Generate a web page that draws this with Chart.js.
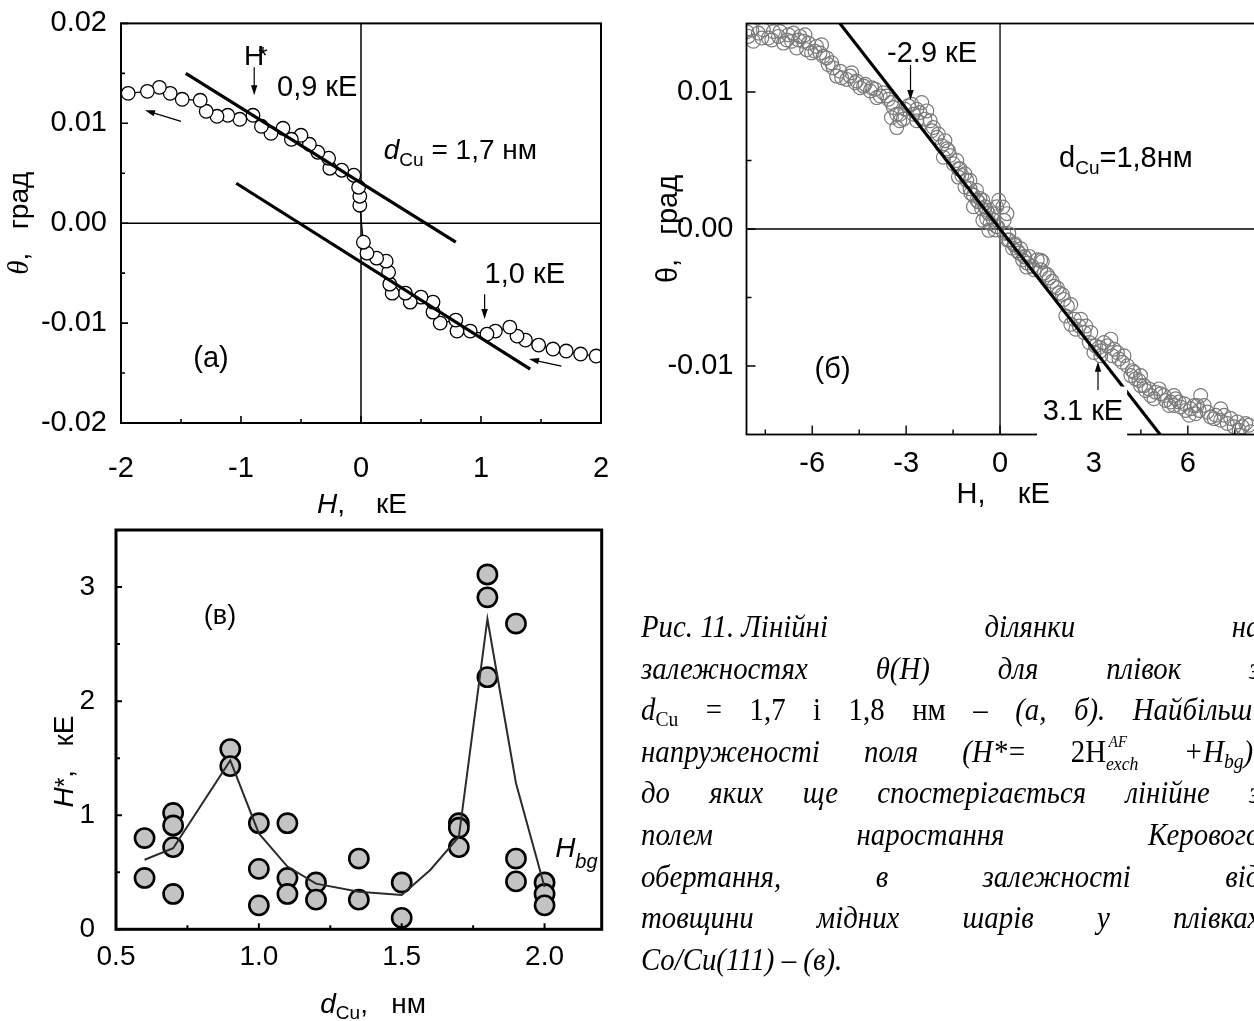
<!DOCTYPE html>
<html lang="uk">
<head>
<meta charset="utf-8">
<title>Рис. 11</title>
<script src="https://cdn.jsdelivr.net/npm/chart.js@4.4.1/dist/chart.umd.min.js"></script>
<style>
  html, body { margin: 0; padding: 0; background: #fff; }
  body { width: 1254px; height: 1021px; overflow: hidden; position: relative; }
  canvas { position: absolute; left: 0; top: 0; }
  .caption {
    position: absolute; left: 641px; top: 606px; width: 666px;
    transform: scaleX(0.93); transform-origin: 0 0;
    font: italic 31px/41.6px "Liberation Serif", "Times New Roman", serif; color: #000;
  }
  .ln { height: 41.6px; text-align: justify; text-align-last: justify; }
  .ln.last { text-align-last: left; }
  .grp { display: inline-block; }
  .up { font-style: normal; }
  .up i { font-style: italic; }
  .sb { font-size: 0.68em; line-height: 0; vertical-align: -0.28em; }
  .st { display: inline-block; position: relative; width: 36px; height: 0; }
  .st .a { position: absolute; left: 3px; top: -28px; font-size: 16px; line-height: 16px; }
  .st .e { position: absolute; left: 0; top: -8px; font-size: 19px; line-height: 19px; }
</style>
</head>
<body>
<canvas id="chA" width="1300" height="1021"></canvas>
<canvas id="chB" width="1300" height="1021"></canvas>
<canvas id="chC" width="1300" height="1021"></canvas>

<div class="caption">
  <div class="ln"><span class="grp">Рис. 11. Лінійні</span> ділянки на</div>
  <div class="ln">залежностях θ(H) для плівок з</div>
  <div class="ln"><span class="up"><i>d</i><span class="sb">Cu</span> = 1,7 і 1,8 нм –</span> (а, б). Найбільші</div>
  <div class="ln">напруженості поля (H*= <span class="up">2H</span><span class="st"><span class="a">AF</span><span class="e">exch</span></span> +H<span class="sb">bg</span>),</div>
  <div class="ln">до яких ще спостерігається лінійне з</div>
  <div class="ln">полем наростання Керового</div>
  <div class="ln">обертання, в залежності від</div>
  <div class="ln">товщини мідних шарів у плівках</div>
  <div class="ln last">Co/Cu(111) – (в).</div>
</div>

<script>
// (а) d_Cu = 1,7 нм, sweep from +2 kE down to -2 kE
const aFieldKOe = [
  1.96, 1.83, 1.71, 1.60, 1.48, 1.37, 1.30, 1.24, 1.12, 1.05,
  0.91, 0.80, 0.79, 0.66, 0.60, 0.60, 0.50, 0.41, 0.37, 0.26,
  0.24, 0.23, 0.21, 0.13, 0.05, 0.02,
  -0.01, -0.01, -0.02, -0.06, -0.16, -0.26, -0.27, -0.36, -0.43, -0.50,
  -0.58, -0.65, -0.75, -0.83, -0.90, -1.01, -1.11, -1.20, -1.29, -1.34,
  -1.49, -1.59, -1.68, -1.78, -1.94
];
const aKerrDeg = [
  -0.0133, -0.0131, -0.0128, -0.0126, -0.0122, -0.0117, -0.0113, -0.0104, -0.0108, -0.0111,
  -0.0108, -0.0108, -0.0097, -0.0100, -0.0089, -0.0079, -0.0074, -0.0079, -0.0070, -0.0070,
  -0.0061, -0.0049, -0.0038, -0.0035, -0.0030, -0.0019,
  0.0018, 0.0027, 0.0036, 0.0048, 0.0053, 0.0055, 0.0065, 0.0071, 0.0079, 0.0088,
  0.0084, 0.0095, 0.0090, 0.0097, 0.0108, 0.0104, 0.0108, 0.0107, 0.0112, 0.0123,
  0.0124, 0.0130, 0.0136, 0.0132, 0.0130
];
const aFitUpperKOe = [-1.46, 0.79];
const aFitUpperDeg = [0.0150, -0.0019];
const aFitLowerKOe = [-1.04, 1.41];
const aFitLowerDeg = [0.0040, -0.0146];
const aTicksX = [-2, -1, 0, 1, 2];
const aMinorX = [-1.5, -0.5, 0.5, 1.5];
const aTicksY = [-0.02, -0.01, 0, 0.01, 0.02];
const aMinorY = [-0.015, -0.005, 0.005, 0.015];

// (б) d_Cu = 1,8 нм
const bFieldKOe = [
  -8.09, -8.04, -7.93, -7.88, -7.72, -7.61, -7.56, -7.40, -7.29, -7.24,
  -7.08, -7.03, -6.92, -6.81, -6.76, -6.66, -6.60, -6.50, -6.44, -6.39,
  -6.28, -6.23, -6.18, -6.12, -6.02, -5.91, -5.86, -5.75, -5.70, -5.65,
  -5.54, -5.49, -5.38, -5.33, -5.22, -5.11, -5.06, -4.90, -4.79, -4.74,
  -4.63, -4.58, -4.47, -4.36, -4.31, -4.15, -4.10, -3.99, -3.94, -3.83,
  -3.73, -3.62, -3.57, -3.47, -3.47, -3.41, -3.30, -3.30, -3.20, -3.20,
  -3.09, -3.04, -2.93, -2.82, -2.77, -2.66, -2.66, -2.56, -2.50, -2.40,
  -2.34, -2.23, -2.18, -2.13, -2.02, -1.97, -1.86, -1.81, -1.76, -1.70,
  -1.65, -1.60, -1.49, -1.38, -1.33, -1.33, -1.28, -1.22, -1.12, -1.12,
  -1.06, -0.96, -0.96, -0.93, -0.85, -0.85, -0.75, -0.74, -0.69, -0.64,
  -0.59, -0.55, -0.55, -0.48, -0.43, -0.42, -0.37, -0.36, -0.32, -0.23,
  -0.21, -0.16, -0.11, -0.11, -0.08, -0.04, 0.09, 0.13, 0.13, 0.22,
  0.24, 0.28, 0.29, 0.40, 0.45, 0.47, 0.56, 0.61, 0.66, 0.72,
  0.77, 0.79, 0.85, 0.87, 0.93, 1.03, 1.09, 1.19, 1.30, 1.30,
  1.35, 1.41, 1.51, 1.57, 1.67, 1.73, 1.83, 1.89, 1.99, 2.04,
  2.10, 2.15, 2.26, 2.26, 2.37, 2.42, 2.53, 2.58, 2.69, 2.74,
  2.85, 2.90, 3.00, 3.05, 3.16, 3.22, 3.22, 3.32, 3.43, 3.54,
  3.59, 3.64, 3.75, 3.80, 3.91, 3.96, 4.07, 4.18, 4.23, 4.28,
  4.33, 4.44, 4.49, 4.49, 4.60, 4.65, 4.76, 4.81, 4.92, 4.97,
  5.08, 5.13, 5.24, 5.29, 5.40, 5.45, 5.56, 5.56, 5.61, 5.72,
  5.77, 5.88, 5.93, 6.04, 6.09, 6.20, 6.25, 6.30, 6.36, 6.41,
  6.52, 6.62, 6.73, 6.84, 6.89, 7.05, 7.05, 7.16, 7.26, 7.37,
  7.48, 7.58, 7.64, 7.74, 7.85, 7.95, 8.01
];
const bKerrDeg = [
  0.01440, 0.01406, 0.01454, 0.01370, 0.01430, 0.01394, 0.01454, 0.01394, 0.01380, 0.01442,
  0.01406, 0.01442, 0.01357, 0.01380, 0.01418, 0.01370, 0.01430, 0.01321, 0.01380, 0.01406,
  0.01370, 0.01418, 0.01309, 0.01357, 0.01285, 0.01297, 0.01333, 0.01285, 0.01345, 0.01261,
  0.01249, 0.01201, 0.01213, 0.01176, 0.01116, 0.01152, 0.01104, 0.01092, 0.01116, 0.01140,
  0.01068, 0.01080, 0.01031, 0.01043, 0.01056, 0.01007, 0.01031, 0.01020, 0.00959, 0.00971,
  0.00995, 0.00971, 0.00947, 0.00923, 0.00814, 0.00886, 0.00838, 0.00740, 0.00790, 0.00838,
  0.00802, 0.00874, 0.00899, 0.00911, 0.00838, 0.00874, 0.00790, 0.00850, 0.00923, 0.00802,
  0.00862, 0.00790, 0.00717, 0.00741, 0.00669, 0.00693, 0.00609, 0.00524, 0.00645, 0.00585,
  0.00572, 0.00536, 0.00476, 0.00500, 0.00440, 0.00379, 0.00440, 0.00391, 0.00403, 0.00307,
  0.00355, 0.00295, 0.00355, 0.00259, 0.00246, 0.00162, 0.00283, 0.00210, 0.00198, 0.00222,
  0.00150, 0.00210, 0.00063, 0.00162, 0.00077, 0.00137, 0.00114, -0.00010, 0.00041, 0.00112,
  0.00065, -0.00007, 0.00162, 0.00017, 0.00017, 0.00210, 0.00161, 0.00063, -0.00031, 0.00112,
  -0.00080, -0.00034, -0.00080, -0.00140, -0.00116, -0.00107, -0.00160, -0.00176, -0.00144, -0.00225,
  -0.00200, -0.00205, -0.00278, -0.00249, -0.00200, -0.00273, -0.00297, -0.00225, -0.00229, -0.00297,
  -0.00237, -0.00321, -0.00333, -0.00357, -0.00382, -0.00418, -0.00430, -0.00466, -0.00478, -0.00514,
  -0.00635, -0.00563, -0.00551, -0.00696, -0.00659, -0.00732, -0.00708, -0.00659, -0.00756, -0.00708,
  -0.00828, -0.00756, -0.00901, -0.00853, -0.00865, -0.00889, -0.00925, -0.00828, -0.00853, -0.00804,
  -0.00925, -0.00877, -0.00901, -0.00949, -0.00973, -0.00925, -0.00998, -0.01070, -0.01034, -0.01046,
  -0.01094, -0.01106, -0.01143, -0.01070, -0.01143, -0.01179, -0.01167, -0.01215, -0.01239, -0.01191,
  -0.01167, -0.01203, -0.01215, -0.01251, -0.01288, -0.01263, -0.01288, -0.01215, -0.01239, -0.01263,
  -0.01299, -0.01275, -0.01324, -0.01360, -0.01312, -0.01288, -0.01348, -0.01288, -0.01324, -0.01215,
  -0.01288, -0.01336, -0.01372, -0.01384, -0.01360, -0.01396, -0.01312, -0.01360, -0.01420, -0.01384,
  -0.01444, -0.01408, -0.01469, -0.01444, -0.01420, -0.01432, -0.01480
];
const bFitKOe = [-5.15, 5.15];
const bFitDeg = [0.0151, -0.0151];
const bTicksX = [-6, -3, 0, 3, 6];
const bMinorX = [-7.5, -4.5, -1.5, 1.5, 4.5, 7.5];
const bTicksY = [-0.01, 0, 0.01];
const bMinorY = [-0.005, 0.005];

// (в) H* versus copper thickness
const cThicknessNm = [
  0.6, 0.6, 0.7, 0.7, 0.7, 0.7, 0.9, 0.9, 1.0, 1.0, 1.0,
  1.1, 1.1, 1.1, 1.2, 1.2, 1.35, 1.35, 1.5, 1.5,
  1.7, 1.7, 1.7, 1.8, 1.8, 1.8, 1.9, 1.9, 1.9, 2.0, 2.0, 2.0
];
const cHstarKOe = [
  0.80, 0.45, 1.02, 0.91, 0.72, 0.31, 1.58, 1.43, 0.93, 0.53, 0.21,
  0.93, 0.45, 0.31, 0.41, 0.26, 0.62, 0.26, 0.41, 0.10,
  0.93, 0.89, 0.72, 3.11, 2.91, 2.21, 2.68, 0.62, 0.42, 0.41, 0.31, 0.21
];
const cBgThicknessNm = [0.6, 0.7, 0.9, 1.0, 1.1, 1.2, 1.35, 1.5, 1.6, 1.7, 1.8, 1.9, 2.0];
const cBgKOe = [0.61, 0.71, 1.48, 0.84, 0.55, 0.40, 0.33, 0.30, 0.52, 0.81, 2.72, 1.28, 0.37];
const cTicksX = [0.5, 1.0, 1.5, 2.0];
const cMinorX = [0.75, 1.25, 1.75];
const cTicksY = [0, 1, 2, 3];
const cMinorY = [0.5, 1.5, 2.5];

const SANS = '"Liberation Sans", Arial, Helvetica, sans-serif';
const SERIF = '"Liberation Serif", "Times New Roman", serif';
const PAGE_W = 1300, PAGE_H = 1021;

const font = (size, style = '', fam = SANS) => `${style} ${size}px ${fam}`.trim();
const xy = (xs, ys) => xs.map((v, i) => ({ x: v, y: ys[i] }));

// text built from runs: [text, font, dy, extra advance]
function runs(ctx, x, y, parts, align) {
  let w = 0;
  parts.forEach(p => { ctx.font = p[1]; w += ctx.measureText(p[0]).width + (p[3] || 0); });
  let cx = align === 'center' ? x - w / 2 : x;
  ctx.textAlign = 'left';
  ctx.textBaseline = 'alphabetic';
  parts.forEach(p => {
    ctx.font = p[1];
    ctx.fillText(p[0], cx, y + (p[2] || 0));
    cx += ctx.measureText(p[0]).width + (p[3] || 0);
  });
}

function vtitle(ctx, x, y, parts) {
  ctx.save();
  ctx.translate(x, y);
  ctx.rotate(-Math.PI / 2);
  runs(ctx, 0, 0, parts, 'center');
  ctx.restore();
}

function arrow(ctx, x1, y1, x2, y2, hl = 10, hw = 3.2) {
  const a = Math.atan2(y2 - y1, x2 - x1), c = Math.cos(a), s = Math.sin(a);
  ctx.lineWidth = 1.2;
  ctx.beginPath();
  ctx.moveTo(x1, y1);
  ctx.lineTo(x2 - c * hl * 0.7, y2 - s * hl * 0.7);
  ctx.stroke();
  ctx.beginPath();
  ctx.moveTo(x2, y2);
  ctx.lineTo(x2 - hl * c + hw * s, y2 - hl * s - hw * c);
  ctx.lineTo(x2 - hl * c - hw * s, y2 - hl * s + hw * c);
  ctx.closePath();
  ctx.fill();
}

function axis(min, max, ticks, fmt, size, pad, fixed, horizontal) {
  return {
    type: 'linear', min, max,
    grid: { display: false },
    border: { display: false },
    afterBuildTicks: s => { s.ticks = ticks.map(v => ({ value: v })); },
    afterFit: s => { if (horizontal) s.height = fixed; else s.width = fixed; },
    ticks: {
      color: '#000', font: { family: SANS, size }, padding: pad,
      maxRotation: 0, autoSkip: false, callback: fmt
    }
  };
}

// box, inward tick marks, zero cross and the panel's own labels
function framePlugin(o) {
  return {
    id: 'frame' + o.name,
    beforeDatasetsDraw(chart) {
      if (!o.cross) return;
      const { ctx, chartArea: ca, scales: { x, y } } = chart;
      const px = x.getPixelForValue(0), py = y.getPixelForValue(0);
      ctx.save();
      ctx.strokeStyle = '#000';
      ctx.lineWidth = o.cross;
      ctx.beginPath();
      ctx.moveTo(px, ca.top); ctx.lineTo(px, ca.bottom);
      ctx.moveTo(ca.left, py); ctx.lineTo(ca.right, py);
      ctx.stroke();
      ctx.restore();
    },
    afterDraw(chart) {
      const { ctx, chartArea: ca, scales: { x, y } } = chart;
      ctx.save();
      ctx.strokeStyle = '#000';
      ctx.fillStyle = '#000';
      ctx.lineWidth = o.border;
      ctx.strokeRect(ca.left, ca.top, ca.right - ca.left, ca.bottom - ca.top);
      ctx.lineWidth = o.tickWidth;
      ctx.beginPath();
      const markX = (vals, len) => vals.forEach(v => {
        const p = x.getPixelForValue(v);
        ctx.moveTo(p, ca.bottom); ctx.lineTo(p, ca.bottom - len);
      });
      const markY = (vals, len) => vals.forEach(v => {
        const p = y.getPixelForValue(v);
        ctx.moveTo(ca.left, p); ctx.lineTo(ca.left + len, p);
      });
      markX(o.majorX, o.major); markX(o.minorX, o.minor);
      markY(o.majorY, o.major); markY(o.minorY, o.minor);
      ctx.stroke();
      o.annotate(ctx, ca, v => x.getPixelForValue(v), v => y.getPixelForValue(v));
      ctx.restore();
    }
  };
}

function panel(id, area, scales, datasets, plugin) {
  return new Chart(document.getElementById(id), {
    type: 'scatter',
    data: { datasets },
    options: {
      responsive: false, animation: false, events: [],
      layout: { padding: { left: 0, top: area.top, right: PAGE_W - area.right, bottom: 0 } },
      plugins: { legend: { display: false }, tooltip: { enabled: false } },
      scales
    },
    plugins: [plugin]
  });
}

const fitLine = (xs, ys, w) => ({
  data: xy(xs, ys), showLine: true, borderColor: '#000', borderWidth: w,
  pointRadius: 0, tension: 0, clip: 0
});

// ---- (а) ----
const areaA = { left: 121, top: 20.5, right: 601, bottom: 423 };
panel('chA', areaA, {
  x: axis(-2, 2, aTicksX, v => String(v), 29, 21, PAGE_H - areaA.bottom, true),
  y: axis(-0.02, 0.02, aTicksY, v => v.toFixed(2), 29, 6, areaA.left, false)
}, [
  fitLine(aFitUpperKOe, aFitUpperDeg, 3.2),
  fitLine(aFitLowerKOe, aFitLowerDeg, 3.2),
  {
    data: xy(aFieldKOe, aKerrDeg), showLine: true, tension: 0,
    borderColor: '#000', borderWidth: 1.2,
    pointRadius: 6.8, pointBorderWidth: 1.3,
    pointBackgroundColor: '#fff', pointBorderColor: '#000', clip: 0
  }
], framePlugin({
  name: 'A', border: 2, tickWidth: 1.6, major: 7, minor: 4, cross: 1.5,
  majorX: aTicksX, minorX: aMinorX, majorY: aTicksY, minorY: aMinorY,
  annotate(ctx, ca, X, Y) {
    runs(ctx, X(-0.975), Y(0.01587), [['H', font(28), 0, -6], ['*', font(24), -1]], 'left');
    arrow(ctx, X(-0.89), Y(0.0156), X(-0.89), Y(0.0128));
    runs(ctx, X(-0.70), Y(0.01271), [['0,9 кЕ', font(29)]]);
    runs(ctx, X(0.19), Y(0.00643), [['d', font(28, 'italic')], ['Cu', font(19), 7], [' = 1,7 нм', font(28)]]);
    runs(ctx, X(1.03), Y(-0.00596), [['1,0 кЕ', font(29)]]);
    arrow(ctx, X(1.03), Y(-0.0071), X(1.03), Y(-0.0096));
    arrow(ctx, X(-1.50), Y(0.0102), X(-1.80), Y(0.0113));
    arrow(ctx, X(1.67), Y(-0.0143), X(1.40), Y(-0.0136));
    runs(ctx, X(-1.25), Y(-0.01444), [['(а)', font(29)]], 'center');
    vtitle(ctx, ca.left - 93, (ca.top + ca.bottom) / 2,
      [['θ', font(29, 'italic', SERIF)], [',', font(28)], ['   град', font(28)]]);
    runs(ctx, X(0) + 1, ca.bottom + 90, [['H', font(28, 'italic')], [',', font(28)], ['    кЕ', font(28)]], 'center');
  }
}));

// ---- (б) ----
const areaB = { left: 746.5, top: 23.5, right: 1256.7, bottom: 434.5 };
panel('chB', areaB, {
  x: axis(-8.1, 8.2, bTicksX, v => String(v), 29, 4, PAGE_H - areaB.bottom, true),
  y: axis(-0.015, 0.015, bTicksY, v => v.toFixed(2), 29, 5, areaB.left, false)
}, [
  fitLine(bFitKOe, bFitDeg, 3.2),
  {
    data: xy(bFieldKOe, bKerrDeg),
    pointRadius: 6.9, pointBorderWidth: 1.2,
    pointBackgroundColor: 'rgba(255,255,255,0)', pointBorderColor: 'rgb(122,122,122)', clip: 0
  }
], framePlugin({
  name: 'B', border: 1.8, tickWidth: 1.4, major: 9, minor: 5, cross: 1.3,
  majorX: bTicksX, minorX: bMinorX, majorY: bTicksY, minorY: bMinorY,
  annotate(ctx, ca, X, Y) {
    runs(ctx, X(-2.17), Y(0.01221), [['-2.9 кЕ', font(29)]], 'center');
    arrow(ctx, X(-2.86), Y(0.01197), X(-2.86), Y(0.00942));
    runs(ctx, X(1.885), Y(0.00453), [['d', font(29)], ['Cu', font(19), 7], ['=1,8нм', font(29)]]);
    runs(ctx, X(-5.35), Y(-0.01088), [['(б)', font(29)]], 'center');
    // label sits on a white plate that hides the line and the axis under it
    ctx.fillStyle = '#fff';
    ctx.fillRect(X(1.18), Y(-0.0115), X(4.06) - X(1.18), ca.bottom + 8 - Y(-0.0115));
    ctx.fillStyle = '#000';
    runs(ctx, X(2.65), Y(-0.01394), [['3.1 кЕ', font(29)]], 'center');
    arrow(ctx, X(3.13), Y(-0.01175), X(3.13), Y(-0.00969));
    vtitle(ctx, ca.left - 70, Y(0), [['θ,', font(29)], ['   град', font(29)]]);
    runs(ctx, X(0.1), ca.bottom + 68.5, [['H,', font(29)], ['    кЕ', font(29)]], 'center');
  }
}));

// ---- (в) ----
const areaC = { left: 116, top: 530, right: 601.7, bottom: 929.3 };
panel('chC', areaC, {
  x: axis(0.5, 2.2, cTicksX, v => v.toFixed(1), 28, 3, PAGE_H - areaC.bottom, true),
  y: axis(0, 3.5, cTicksY, v => String(v), 28, 13, areaC.left, false)
}, [
  {
    data: xy(cBgThicknessNm, cBgKOe), showLine: true, tension: 0,
    borderColor: '#2b2b2b', borderWidth: 2, pointRadius: 0
  },
  {
    data: xy(cThicknessNm, cHstarKOe),
    pointRadius: 9.6, pointBorderWidth: 2.6,
    pointBackgroundColor: '#c3c3c3', pointBorderColor: '#000'
  }
], framePlugin({
  name: 'C', border: 3, tickWidth: 2, major: 6, minor: 4, cross: 0,
  majorX: cTicksX, minorX: cMinorX, majorY: cTicksY, minorY: cMinorY,
  annotate(ctx, ca, X, Y) {
    runs(ctx, X(0.864), Y(2.676), [['(в)', font(27)]], 'center');
    runs(ctx, X(2.037), Y(0.634), [['H', font(28, 'italic')], ['bg', font(20, 'italic'), 11]]);
    vtitle(ctx, ca.left - 43, Y(1.47),
      [['H', font(28, 'italic')], ['*', font(25)], [',', font(28)], ['   кЕ', font(28)]]);
    runs(ctx, X(1.40), ca.bottom + 84,
      [['d', font(28, 'italic')], ['Cu', font(19), 6], [',', font(28)], ['   нм', font(28)]], 'center');
  }
}));
</script>
</body>
</html>
